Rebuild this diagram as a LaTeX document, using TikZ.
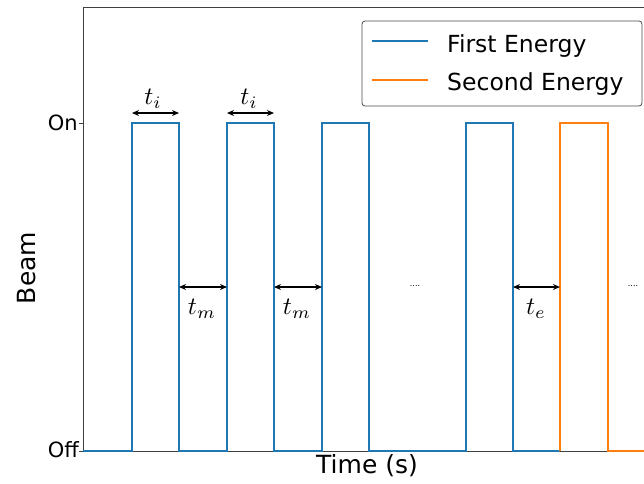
\documentclass[tikz,border=0pt]{standalone}
\usepackage{graphicx}
\usepackage{fontspec}
\setmainfont{DejaVu Sans}
\usetikzlibrary{arrows.meta}
\definecolor{mplblue}{HTML}{1F77B4}
\definecolor{mplorange}{HTML}{FF7F0E}
\newcommand{\mylab}[1]{\scalebox{2.5}{$#1$}}
\begin{document}
\begin{tikzpicture}[x=1pt,y=-1pt,
  spine/.style={draw=black!75,line width=0.9pt},
  sig/.style={line width=1.5pt,line join=miter},
  dimarrow/.style={{Stealth[length=7pt,width=6pt]}-{Stealth[length=7pt,width=6pt]},line width=1.3pt,black},
  mlabel/.style={inner sep=0pt},
  ticklabel/.style={font=\fontsize{21}{25}\selectfont,inner sep=0pt},
  axlabel/.style={font=\fontsize{25}{30}\selectfont,inner sep=0pt},
  legtext/.style={font=\fontsize{23.5}{28}\selectfont,inner sep=0pt,anchor=base west},
  dots/.style={font=\fontsize{8}{10}\selectfont,inner sep=0pt}]
\useasboundingbox (0,0) rectangle (644,483);
% key coordinates
\coordinate (on) at (83,123);
\coordinate (off) at (83,451);
% pulse edges
\foreach \n/\x in {a/132,b/179,c/227,d/274,e/322,f/369,g/466,h/513,i/560,j/608}{
  \coordinate (lo-\n) at (\x,451);
  \coordinate (hi-\n) at (\x,123);
}
% spines
\draw[spine] (83,451) -- (83,7) -- (644,7);
\draw[spine] (83,451) -- (644,451);
% ticks
\draw[spine] (on) -- ++(-4,0);
\draw[spine] (off) -- ++(-4,0);
% signals
\draw[sig,mplblue] (off) -- (lo-a) -- (hi-a) -- (hi-b) -- (lo-b) -- (lo-c) -- (hi-c) -- (hi-d) -- (lo-d) -- (lo-e) -- (hi-e) -- (hi-f) -- (lo-f) -- (lo-g) -- (hi-g) -- (hi-h) -- (lo-h) -- (lo-i);
\draw[sig,mplorange] (lo-i) -- (hi-i) -- (hi-j) -- (lo-j) -- (644,451);
% tick labels
\node[ticklabel,anchor=east] (onlab) at (78,123) {On};
\node[ticklabel,anchor=east] (offlab) at (79,450) {Off};
% axis labels
\node[axlabel,rotate=90] (ylab) at (27,268) {Beam};
\node[axlabel] (xlab) at (367,466) {Time (s)};
% dimension arrows
\coordinate (ti1a) at (132,113); \coordinate (ti1b) at (179,113);
\coordinate (ti2a) at (227,113); \coordinate (ti2b) at (274,113);
\coordinate (tm1a) at (179,287); \coordinate (tm1b) at (227,287);
\coordinate (tm2a) at (274,287); \coordinate (tm2b) at (322,287);
\coordinate (tea) at (513,287); \coordinate (teb) at (560,287);
\draw[dimarrow] (ti1a) -- (ti1b);
\draw[dimarrow] (ti2a) -- (ti2b);
\draw[dimarrow] (tm1a) -- (tm1b);
\draw[dimarrow] (tm2a) -- (tm2b);
\draw[dimarrow] (tea) -- (teb);
\node[mlabel] (ti1) at (153,99) {\mylab{t_i}};
\node[mlabel] (ti2) at (249,99) {\mylab{t_i}};
\node[mlabel] (tm1) at (202,309) {\mylab{t_m}};
\node[mlabel] (tm2) at (297,309) {\mylab{t_m}};
\node[mlabel] (te) at (536,309) {\mylab{t_e}};
% dots
\node[dots] (dots1) at (415,286) {....};
\node[dots] (dots2) at (633,286) {....};
% legend
\draw[draw=black!70,fill=white,line width=0.8pt,rounded corners=3pt] (362,21) rectangle (642,106);
\draw[mplblue,line width=1.5pt] (372,41) -- (428,41);
\draw[mplorange,line width=1.5pt] (372,80) -- (428,80);
\node[legtext] (leg1) at (447,52) {First Energy};
\node[legtext] (leg2) at (447,90) {Second Energy};
\end{tikzpicture}
\end{document}
